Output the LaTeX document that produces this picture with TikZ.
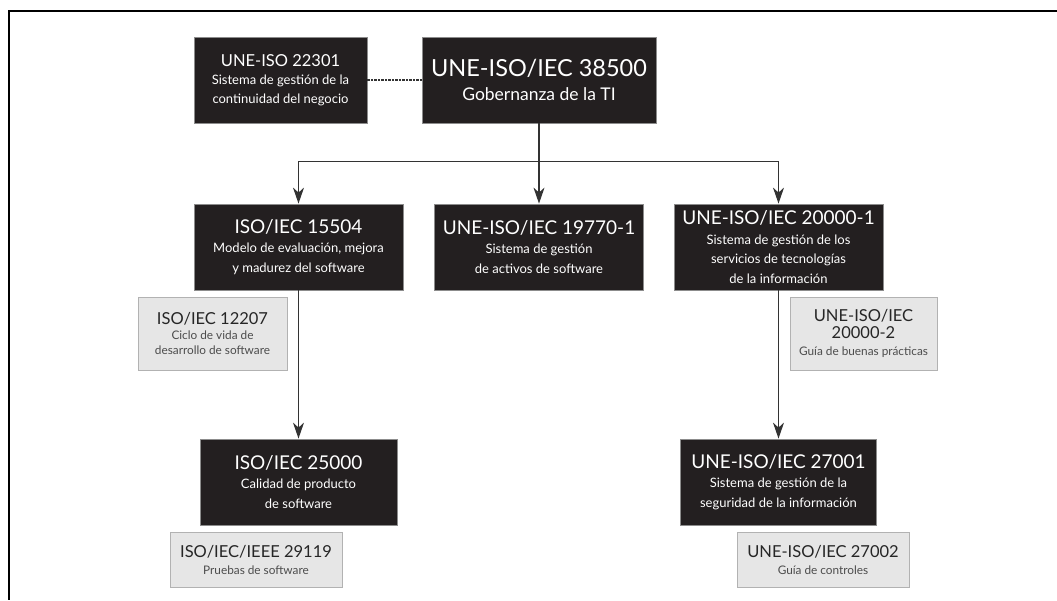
\documentclass[tikz,border=0pt]{standalone}
\usepackage{fontspec}
\setmainfont{Lato}
\usepackage{xcolor}
\usepackage{tikz}
\usetikzlibrary{arrows.meta,positioning,calc}

\definecolor{boxdark}{HTML}{231F20}
\definecolor{boxgrey}{HTML}{E6E6E6}
\definecolor{linegrey}{HTML}{333333}

\newcommand{\darktitle}[1]{{\fontsize{19}{19.5}\selectfont #1}}
\newcommand{\greytitle}[1]{{\fontsize{16.5}{18}\selectfont\color{black!85} #1}}

\begin{document}
\begin{tikzpicture}[x=1pt,y=-1pt,
	darkbox/.style={draw=black!45, line width=0.8pt, fill=boxdark, text=white,
		inner sep=0pt, align=center, minimum height=86pt,
		font=\fontsize{13}{19.5}\selectfont},
	greybox/.style={draw=black!30, line width=0.8pt, fill=boxgrey, text=black!70,
		inner sep=0pt, align=center, font=\fontsize{11.8}{15}\selectfont},
	link/.style={draw=linegrey, line width=1.3pt, -{Stealth[length=16pt,width=11pt,inset=5pt]}}]
		\useasboundingbox (0,0) rectangle (1057,600);
		\draw[line width=2pt] (1057,11) -- (9,11) -- (9,600);

		% top row
		\node[darkbox, minimum width=173pt, font=\fontsize{13}{18.5}\selectfont] (iso22301) at (280.5,80)
			{{\fontsize{16.5}{19}\selectfont UNE-ISO 22301}\\Sistema de gestión de la\\continuidad del negocio};
		\node[darkbox, minimum width=234pt, font=\fontsize{17.5}{24}\selectfont] (iso38500) at (539,80)
			{{\fontsize{23.5}{24}\selectfont UNE-ISO/IEC 38500}\\Gobernanza de la TI};

		% middle row
		\node[darkbox, minimum width=209pt] (iso15504) at (298.5,247)
			{\darktitle{ISO/IEC 15504}\\Modelo de evaluación, mejora\\y madurez del software};
		\node[darkbox, minimum width=209pt] (iso19770) at (539,247)
			{\darktitle{UNE-ISO/IEC 19770-1}\\Sistema de gestión\\de activos de software};
		\node[darkbox, minimum width=209pt] (iso20000a) at (778.5,247)
			{\darktitle{UNE-ISO/IEC 20000-1}\\Sistema de gestión de los\\servicios de tecnologías\\de la información};

		\node[greybox, minimum width=149pt, minimum height=73pt] (iso12207) at (212.5,333.5)
			{\greytitle{ISO/IEC 12207}\\Ciclo de vida de\\desarrollo de software};
		\node[greybox, minimum width=147pt, minimum height=73pt, font=\fontsize{11.8}{17}\selectfont] (iso20000b) at (863.5,333.5)
			{\greytitle{UNE-ISO/IEC}\\\greytitle{20000-2}\\Guía de buenas prácticas};

		% bottom row
		\node[darkbox, minimum width=197pt] (iso25000) at (298.5,482)
			{\darktitle{ISO/IEC 25000}\\Calidad de producto\\de software};
		\node[darkbox, minimum width=196pt] (iso27001) at (778.5,482)
			{\darktitle{UNE-ISO/IEC 27001}\\Sistema de gestión de la\\seguridad de la información};

		\node[greybox, minimum width=172pt, minimum height=55pt, font=\fontsize{11.8}{17}\selectfont] (iso29119) at (256,559.5)
			{\greytitle{ISO/IEC/IEEE 29119}\\Pruebas de software};
		\node[greybox, minimum width=172pt, minimum height=55pt, font=\fontsize{11.8}{17}\selectfont] (iso27002) at (823,559.5)
			{\greytitle{UNE-ISO/IEC 27002}\\Guía de controles};

		% connectors
		\draw[linegrey, line width=1.2pt, dash pattern=on 2.5pt off 1pt] (iso22301.east) -- (iso38500.west);
		\coordinate (split) at ($(iso38500.south)+(0,38)$);
		\draw[link] (iso38500.south) -- (iso19770.north);
		\draw[link] (split) -| (iso15504.north);
		\draw[link] (split) -| (iso20000a.north);
		\draw[link] (iso15504.south) -- (iso25000.north);
		\draw[link] (iso20000a.south) -- (iso27001.north);
	\end{tikzpicture}
\end{document}
